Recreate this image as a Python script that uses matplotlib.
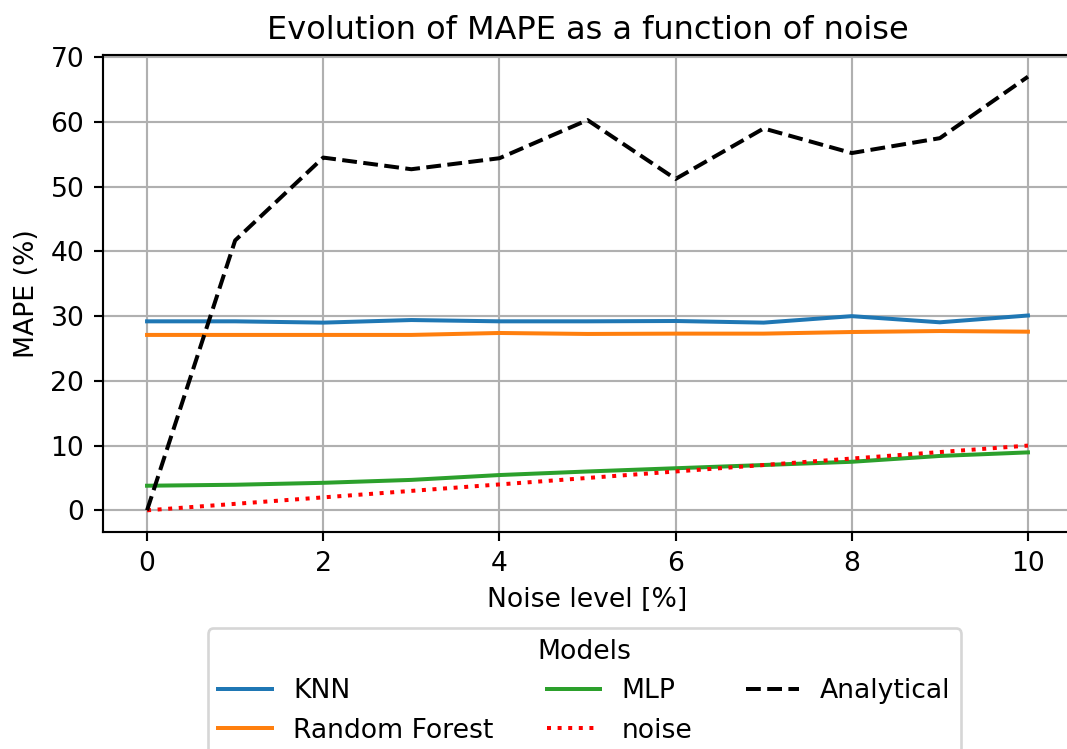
import matplotlib
matplotlib.use("Agg")
import matplotlib.pyplot as plt
import numpy as np

noise_levels = [0, 1, 2, 3, 4, 5, 6, 7, 8, 9, 10]
knn = [29.2, 29.2, 29.0, 29.4, 29.2, 29.2, 29.25, 29.0, 30.0, 29.05, 30.1]
random_forest = [27.1, 27.1, 27.1, 27.1, 27.4, 27.25, 27.3, 27.3, 27.55, 27.7, 27.6]
mlp = [3.8, 3.95, 4.25, 4.7, 5.45, 6.0, 6.5, 7.0, 7.5, 8.4, 8.95]
noise = [0, 1, 2, 3, 4, 5, 6, 7, 8, 9, 10]
analytical = [0, 41.7, 54.5, 52.7, 54.4, 60.3, 51.2, 59.0, 55.2, 57.5, 67.0]

dpi = 192
fig = plt.figure(figsize=(1067 / dpi, 749 / dpi), dpi=dpi)
# axes placed by hand: the right spine falls just outside the picture
ax = fig.add_axes([103 / 1067, (749 - 532) / 749, (1072 - 103) / 1067, (532 - 55) / 749])

ax.plot(noise_levels, knn, label="KNN")
ax.plot(noise_levels, random_forest, label="Random Forest")
ax.plot(noise_levels, mlp, label="MLP")
ax.plot(noise_levels, noise, "r:", label="noise")
ax.plot(noise_levels, analytical, "k--", label="Analytical")

ax.set_title("Evolution of MAPE as a function of noise")
ax.set_xlabel("Noise level [%]")
ax.set_ylabel("MAPE (%)")
ax.grid(True)
ax.legend(title="Models", loc="upper center", bbox_to_anchor=(0.497, -0.174), ncol=3)

fig.savefig("out.png", dpi=dpi)
